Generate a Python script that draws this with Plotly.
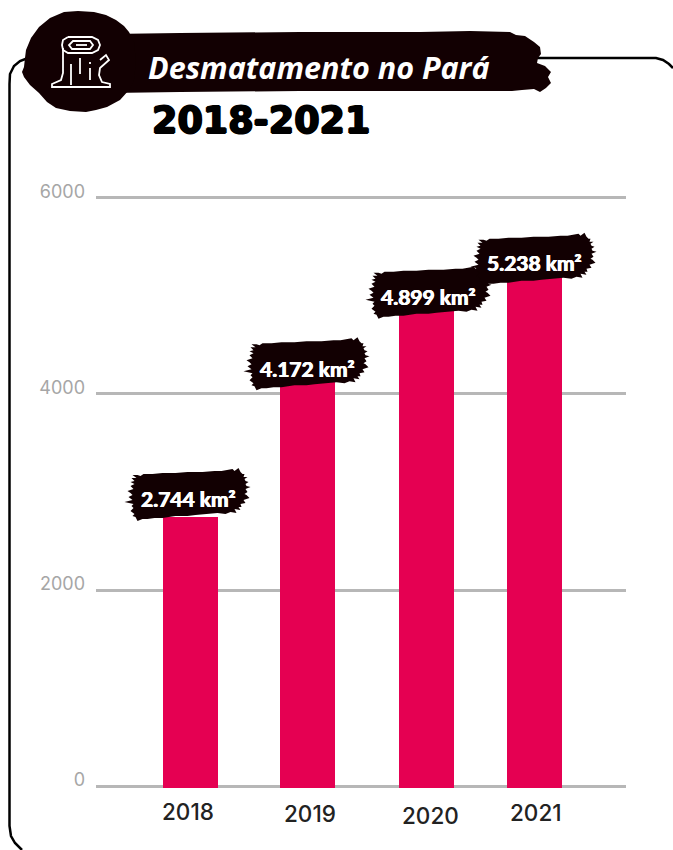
import plotly.graph_objects as go

# Deforestation in Pará, km² per year
years = ["2018", "2019", "2020", "2021"]
area_km2 = [2744, 4172, 4899, 5238]
y_ticks = [0, 2000, 4000, 6000]

title_text = "Desmatamento no Pará"
subtitle_text = "2018-2021"

W, H = 673, 850
PLOT_L, PLOT_R, PLOT_T, PLOT_B = 96, 626, 196, 788

# Horizontal layout of the columns, in axis units that follow the page width
bar_slots = [190.5, 307.5, 426.5, 534.5]
bar_width = 55
year_label_slots = [188, 310, 430, 536]
year_label_drop = [-25, -27, -29, -26]
# Placement of the ink-stroke tag relative to the top of each column
tag_dx = [-3, -1, 2, -1]
tag_dy = [21, 12, 12, 12]
label_dx = [-2, 0, 2, 0]
label_dy = [19, 9, 9, 10]

INK = "#120002"
PINK = "#E50052"
GRID = "#B7B7B7"


def px(points, close=True):
    """Page-pixel outline -> SVG path in paper fractions."""
    parts = [f"{x / W:.5f},{1 - y / H:.5f}" for x, y in points]
    return "M" + " L".join(parts) + (" Z" if close else "")


def paper_shape(path, **style):
    return dict(type="path", xref="paper", yref="paper", path=path, **style)


# Jagged brush stroke behind each value label, offsets in pixels from its centre
brush_outline = [
    (-50, 21), (-47, 20), (-44, 22), (-35, 22), (-25, 23), (-12, 23), (0, 24), (15, 24), (27, 25), (34, 25),
    (45, 27), (47, 25), (51, 28), (53, 24), (55, 22), (57, 22), (56, 19), (60, 19), (57, 17), (58, 15),
    (61, 14), (58, 12), (59, 10), (63, 9), (58, 7), (60, 4), (57, 2), (59, 1), (62, -2), (56, -4), (58, -7),
    (53, -8), (54, -11), (51, -11), (53, -14), (47, -13), (49, -17), (43, -16), (38, -18), (30, -17),
    (19, -18), (8, -19), (0, -20), (-12, -20), (-25, -22), (-33, -22), (-40, -23), (-45, -23), (-50, -25),
    (-52, -21), (-55, -20), (-53, -18), (-57, -15), (-54, -12), (-56, -10), (-54, -8), (-63, -6), (-55, -4),
    (-59, -1), (-55, 1), (-57, 3), (-60, 5), (-54, 7), (-57, 10), (-53, 12), (-57, 14), (-53, 15), (-56, 18),
    (-51, 18), (-55, 21),
]


def brush_path(points):
    return "M" + " L".join(f"{x},{y}" for x, y in points) + " Z"


fig = go.Figure()

fig.add_trace(go.Bar(
    x=bar_slots,
    y=area_km2,
    width=bar_width,
    marker=dict(color=PINK, line=dict(width=0)),
    hovertext=years,
    showlegend=False,
))

shapes = []

# Rounded card outline running off the page on the right and at the bottom
frame = [(22, 850), (15, 843), (11, 836), (9.5, 826), (9.5, 84), (10, 74), (14, 66), (20, 61), (28, 58)]
shapes.append(paper_shape(px(frame, close=False), line=dict(color="#000", width=2.5), fillcolor="rgba(0,0,0,0)"))
frame_top = [(530, 58), (656, 58), (663, 60), (669, 64), (673, 68)]
shapes.append(paper_shape(px(frame_top, close=False), line=dict(color="#000", width=2.5), fillcolor="rgba(0,0,0,0)"))

# Title banner
banner = [
    (110, 34), (180, 33), (300, 32), (420, 32), (470, 31), (510, 32), (516, 35), (525, 36), (534, 42), (540, 47),
    (541, 54), (538, 58), (537, 63), (545, 66), (551, 72), (548, 77), (551, 83), (546, 88), (540, 92), (534, 89),
    (522, 90), (512, 91), (470, 91), (300, 91), (180, 92), (110, 93),
]
shapes.append(paper_shape(px(banner), fillcolor=INK, line=dict(width=0)))

# Round blot holding the stump icon
blot = [
    (64, 12), (78, 11), (94, 12), (106, 15), (116, 20), (124, 26), (129, 32), (134, 42), (136, 62), (134, 80),
    (129, 90), (120, 100), (107, 107), (96, 110), (86, 112), (70, 111), (56, 108), (47, 102), (39, 93),
    (30, 85), (24, 77), (22, 72), (24, 67), (25, 58), (26, 50), (31, 38), (39, 27), (50, 18),
]
shapes.append(paper_shape(px(blot), fillcolor=INK, line=dict(width=0)))

# Stump icon, white line work
icon_style = dict(line=dict(color="#fff", width=1.8), fillcolor="rgba(0,0,0,0)")
icon_paths = [
    [(68, 37), (92, 37), (98, 40), (100, 45), (98, 50), (92, 53), (68, 53), (63, 50), (62, 45), (63, 40), (68, 37)],
    [(73, 41), (90, 41), (93, 45), (90, 49), (72, 49), (69, 45), (73, 41), (86, 41)],
    [(76, 45), (87, 45)],
    [(63, 48), (63, 73), (61, 80), (52, 84), (52, 87), (110, 87), (110, 84), (102, 82), (99, 75), (100, 68),
     (109, 60), (106, 55), (100, 60)],
    [(71, 64), (71, 85)],
    [(80, 58), (80, 74)],
    [(90, 62), (90, 64)],
    [(90, 68), (90, 80)],
]
for seg in icon_paths:
    shapes.append(paper_shape(px(seg, close=False), **icon_style))

# Short foot under each column, below the baseline
for slot in bar_slots:
    shapes.append(dict(type="rect", xref="x", yref="y", layer="above",
                       x0=slot - bar_width / 2, x1=slot + bar_width / 2, y0=-20, y1=0,
                       fillcolor=PINK, line=dict(width=0)))

# Ink tags, anchored to each column's top
for slot, value, dx, dy in zip(bar_slots, area_km2, tag_dx, tag_dy):
    shapes.append(dict(type="path", layer="above", xref="x", yref="y",
                       xsizemode="pixel", ysizemode="pixel", xanchor=slot, yanchor=value,
                       path=brush_path([(x + dx, y + dy) for x, y in brush_outline]),
                       fillcolor=INK, line=dict(width=0)))

annotations = []

# Value labels, with dot as the thousands separator
for slot, value, dx, dy in zip(bar_slots, area_km2, label_dx, label_dy):
    annotations.append(dict(
        x=slot, y=value, xref="x", yref="y", xshift=dx, yshift=dy, showarrow=False,
        text=f"<b>{value:,}".replace(",", ".") + " km²</b>",
        font=dict(family="Lato", size=21, color="#fff", shadow="0.5px 0 0 #fff, -0.5px 0 0 #fff"),
    ))

# Year labels under the baseline
for slot, name, drop in zip(year_label_slots, years, year_label_drop):
    annotations.append(dict(
        x=slot, y=0, xref="x", yref="y", yshift=drop, showarrow=False, text=name,
        font=dict(family="Inter", size=22.5, color="#222222", weight=500),
    ))

annotations.append(dict(
    x=146 / W, y=1 - 67 / H, xref="paper", yref="paper", xanchor="left", yanchor="middle", showarrow=False,
    text=f"<b><i>{title_text}</i></b>",
    font=dict(family="Open Sans", size=30.5, color="#fff"),
))
annotations.append(dict(
    x=150 / W, y=1 - 121 / H, xref="paper", yref="paper", xanchor="left", yanchor="middle", showarrow=False,
    text=f"<b>{subtitle_text}</b>",
    font=dict(family="DejaVu Sans", size=36.5, color="#000",
              shadow="1px 0 0 #000, -1px 0 0 #000, 0 1px 0 #000, 0 -1px 0 #000"),
))

fig.update_layout(
    width=W, height=H,
    margin=dict(l=0, r=0, t=0, b=0, pad=0, autoexpand=False),
    paper_bgcolor="#fff",
    plot_bgcolor="#fff",
    bargap=0,
    shapes=shapes,
    annotations=annotations,
    showlegend=False,
    xaxis=dict(
        domain=[PLOT_L / W, PLOT_R / W],
        range=[PLOT_L, PLOT_R],
        showgrid=False, zeroline=False, showline=False, showticklabels=False, ticks="",
    ),
    yaxis=dict(
        domain=[1 - PLOT_B / H, 1 - PLOT_T / H],
        range=[-20, 6020],
        tickvals=y_ticks,
        ticktext=[str(t) for t in y_ticks],
        showgrid=True, gridcolor=GRID, gridwidth=2.5,
        zeroline=False, showline=False, ticks="",
        ticklabelstandoff=10,
        ticklabelshift=-6,
        tickfont=dict(family="Inter", size=18, color="#A6A6A6"),
    ),
)

fig.write_html("out.html")
